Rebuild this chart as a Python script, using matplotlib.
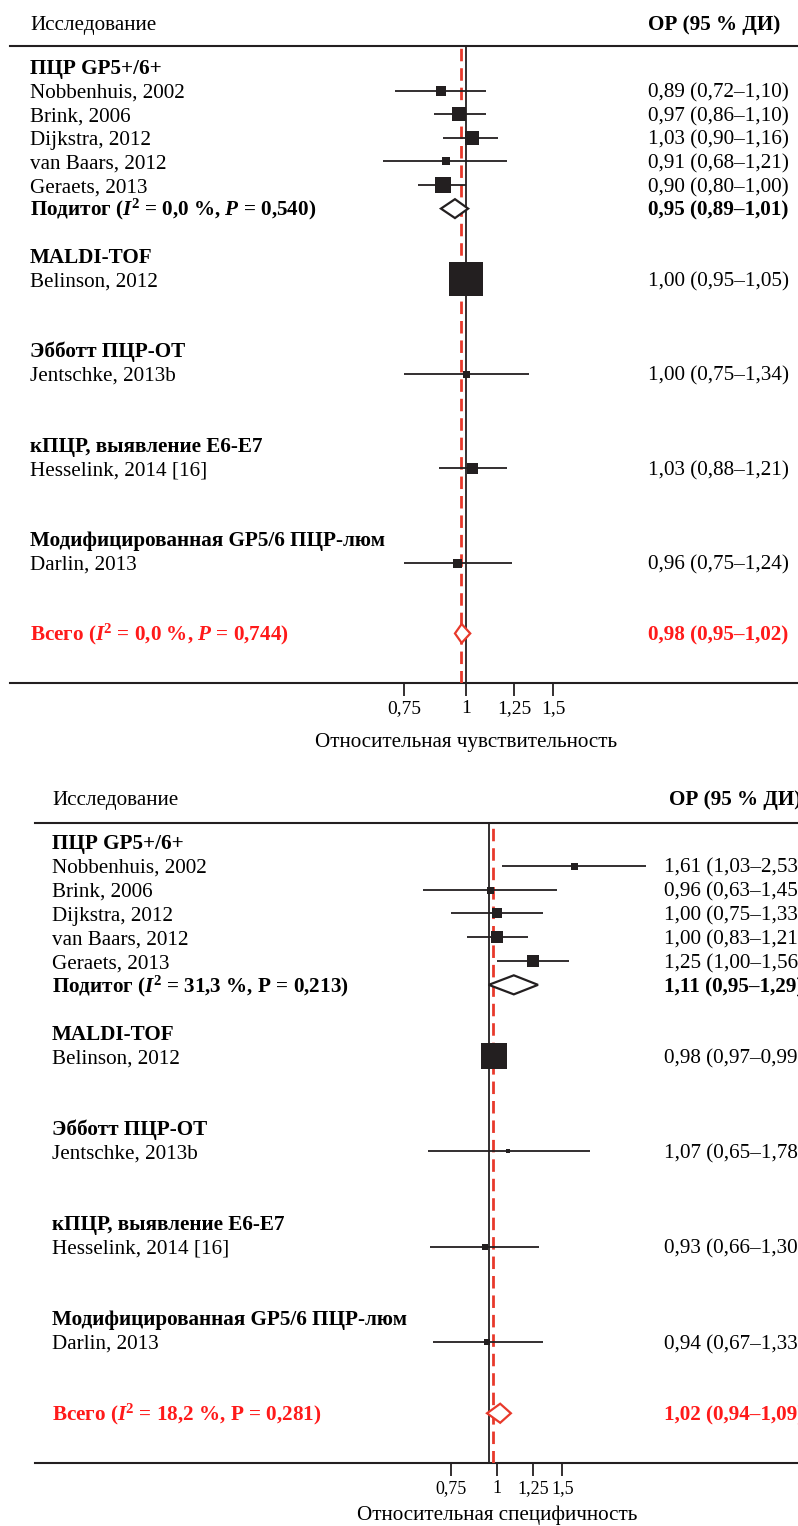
import math

import matplotlib
matplotlib.use("Agg")
import matplotlib.pyplot as plt
from matplotlib import transforms
from matplotlib.ticker import NullLocator

plt.rcParams["font.family"] = ["Liberation Serif", "DejaVu Serif"]
plt.rcParams["mathtext.fontset"] = "custom"
plt.rcParams["mathtext.rm"] = "Liberation Serif"
plt.rcParams["mathtext.it"] = "Liberation Serif:italic"
plt.rcParams["mathtext.bf"] = "Liberation Serif:bold"
plt.rcParams["mathtext.bfit"] = "Liberation Serif:bold:italic"

# ---- data -------------------------------------------------------------
GROUPS = [
    "ПЦР GP5+/6+",
    "MALDI-TOF",
    "Эбботт ПЦР-ОТ",
    "кПЦР, выявление E6-E7",
    "Модифицированная GP5/6 ПЦР-люм",
]
STUDIES = [
    "Nobbenhuis, 2002",
    "Brink, 2006",
    "Dijkstra, 2012",
    "van Baars, 2012",
    "Geraets, 2013",
    "Belinson, 2012",
    "Jentschke, 2013b",
    "Hesselink, 2014 [16]",
    "Darlin, 2013",
]

# relative sensitivity
SENS_RR = [0.89, 0.97, 1.03, 0.91, 0.90, 1.00, 1.00, 1.03, 0.96]
SENS_LO = [0.72, 0.86, 0.90, 0.68, 0.80, 0.95, 0.75, 0.88, 0.75]
SENS_HI = [1.10, 1.10, 1.16, 1.21, 1.00, 1.05, 1.34, 1.21, 1.24]
SENS_WEIGHT = [10, 14, 14, 8, 16, 34, 7, 11, 9]
SENS_SUB = (0.95, 0.89, 1.01)
SENS_ALL = (0.98, 0.95, 1.02)
SENS_SUB_LABEL = r"Подитог ($\mathbfit{I}^{\mathbf{2}}$ = 0,0 %, $\mathbfit{P}$ = 0,540)"
SENS_ALL_LABEL = r"Всего ($\mathbfit{I}^{\mathbf{2}}$ = 0,0 %, $\mathbfit{P}$ = 0,744)"

# relative specificity
SPEC_RR = [1.61, 0.96, 1.00, 1.00, 1.25, 0.98, 1.07, 0.93, 0.94]
SPEC_LO = [1.03, 0.63, 0.75, 0.83, 1.00, 0.97, 0.65, 0.66, 0.67]
SPEC_HI = [2.53, 1.45, 1.33, 1.21, 1.56, 0.99, 1.78, 1.30, 1.33]
SPEC_WEIGHT = [7, 7, 10, 12, 12, 27, 5, 6, 6]
SPEC_SUB = (1.11, 0.95, 1.29)
SPEC_ALL = (1.02, 0.94, 1.09)
SPEC_SUB_LABEL = r"Подитог ($\mathbfit{I}^{\mathbf{2}}$ = 31,3 %, P = 0,213)"
SPEC_ALL_LABEL = r"Всего ($\mathbfit{I}^{\mathbf{2}}$ = 18,2 %, P = 0,281)"

TICKS = [0.75, 1, 1.25, 1.5]
TICK_LABELS = ["0,75", "1", "1,25", "1,5"]

# ---- layout -----------------------------------------------------------
GROUP_ROWS = [0, 8, 12, 16, 20]
STUDY_ROWS = [1, 2, 3, 4, 5, 9, 13, 17, 21]
SUB_ROW = 6
ALL_ROW = 24

W, H = 798, 1526
INK = "#231f20"
RED_TEXT = "#ff1a1a"
RED_LINE = "#e8392b"
FS = 15.2


def ru(v):
    return f"{v:.2f}".replace(".", ",")


def ci_text(rr, lo, hi):
    return f"{ru(rr)} ({ru(lo)}–{ru(hi)})"


def diamond(ax, est, lo, hi, row, half, edge):
    ax.fill([lo, est, hi, est, lo], [row, row - half, row, row + half, row],
            facecolor="white", edgecolor=edge, linewidth=1.6, zorder=4)


def draw_panel(px_left, px_top, px_bottom, row_top, row_bottom, one_px, px_per_ln,
               text_px, value_px, head_px, rr, lo, hi, weight, sub, total,
               sub_label, total_label, null_x, pooled_x, xlabel, xlabel_row, tick_fs):
    ax = fig.add_axes([px_left / W, 1 - px_bottom / H, 1 - px_left / W, (px_bottom - px_top) / H])
    ax.set_xscale("log")
    ax.set_xlim(math.exp((px_left - one_px) / px_per_ln), math.exp((W - one_px) / px_per_ln))
    ax.set_ylim(row_bottom, row_top)
    for side in ("left", "right"):
        ax.spines[side].set_visible(False)
    for side in ("top", "bottom"):
        ax.spines[side].set_linewidth(1.5)
        ax.spines[side].set_color(INK)
    ax.set_yticks([])
    ax.set_xticks(TICKS)
    ax.set_xticklabels(TICK_LABELS)
    ax.xaxis.set_minor_locator(NullLocator())
    ax.tick_params(axis="x", direction="out", length=9, width=1.3, color=INK,
                   labelsize=tick_fs, pad=3.5, labelcolor="black")

    ax.axvline(null_x, color=INK, lw=1.3, zorder=2)
    ax.axvline(pooled_x, color=RED_LINE, lw=2.0, dashes=(4.5, 2.5), zorder=3)

    for r, est, l, h, w in zip(STUDY_ROWS, rr, lo, hi, weight):
        ax.plot([l, h], [r, r], color=INK, lw=1.3, zorder=4, solid_capstyle="butt")
        ax.plot([est], [r], marker="s", ms=w * 0.72, color=INK, mec=INK, mew=0, zorder=5)

    diamond(ax, sub[0], sub[1], sub[2], SUB_ROW, 0.4, INK)
    diamond(ax, total[0], total[1], total[2], ALL_ROW, 0.4, RED_LINE)

    tf = transforms.blended_transform_factory(fig.transFigure, ax.transData)
    base = 0.3
    ax.text(text_px / W, -1.87 + base, "Исследование", transform=tf, fontsize=FS, va="baseline")
    ax.text(head_px / W, -1.87 + base, "ОР (95 % ДИ)", transform=tf, fontsize=FS,
            fontweight="bold", va="baseline")
    for r, name in zip(GROUP_ROWS, GROUPS):
        ax.text(text_px / W, r + base, name, transform=tf, fontsize=FS, fontweight="bold", va="baseline")
    for r, name, est, l, h in zip(STUDY_ROWS, STUDIES, rr, lo, hi):
        ax.text(text_px / W, r + base, name, transform=tf, fontsize=FS, va="baseline")
        ax.text(value_px / W, r + base, ci_text(est, l, h), transform=tf, fontsize=FS, va="baseline")
    ax.text(text_px / W, SUB_ROW + base, sub_label, transform=tf, fontsize=FS,
            fontweight="bold", va="baseline")
    ax.text(value_px / W, SUB_ROW + base, ci_text(*sub), transform=tf, fontsize=FS,
            fontweight="bold", va="baseline")
    ax.text(text_px / W, ALL_ROW + base, total_label, transform=tf, fontsize=FS,
            fontweight="bold", color=RED_TEXT, va="baseline")
    ax.text(value_px / W, ALL_ROW + base, ci_text(*total), transform=tf, fontsize=FS,
            fontweight="bold", color=RED_TEXT, va="baseline")
    ax.text(1.0, xlabel_row, xlabel, fontsize=FS, ha="center", va="center")
    return ax


fig = plt.figure(figsize=(W / 100, H / 100), dpi=100, facecolor="white")

draw_panel(10, 46, 683, -0.89, 26.1, 466, 215, 30, 648, 648,
           SENS_RR, SENS_LO, SENS_HI, SENS_WEIGHT, SENS_SUB, SENS_ALL,
           SENS_SUB_LABEL, SENS_ALL_LABEL, 1.0, 0.977,
           "Относительная чувствительность", 28.6, 14)

# the bottom panel is shifted right in the source and runs off the page edge
draw_panel(35, 823, 1463, -0.8, 26.09, 497, 161, 52, 664, 669,
           SPEC_RR, SPEC_LO, SPEC_HI, SPEC_WEIGHT, SPEC_SUB, SPEC_ALL,
           SPEC_SUB_LABEL, SPEC_ALL_LABEL, 0.952, 0.976,
           "Относительная специфичность", 28.3, 13)

fig.savefig("out.png", dpi=100, facecolor="white")
